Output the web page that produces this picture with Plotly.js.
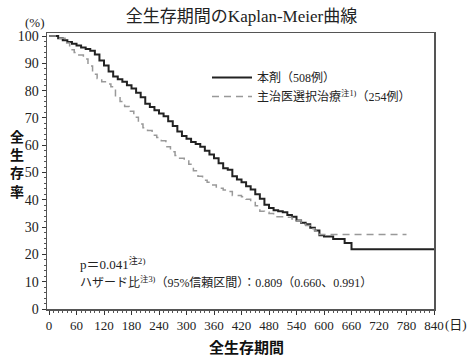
<!DOCTYPE html>
<html><head><meta charset="utf-8">
<script src="https://cdn.plot.ly/plotly-3.0.1.min.js"></script>
<style>html,body{margin:0;padding:0;background:#fff}#chart{width:469px;height:356px}</style>
</head><body><div id="chart"></div>
<script>
// Kaplan-Meier: 本剤 (508例)
const drugDays = [0,10,20,30,40,50,60,70,80,90,100,110,120,130,140,150,160,170,180,190,200,210,220,230,240,250,260,270,280,290,300,310,320,330,340,350,360,370,380,390,400,410,420,430,440,450,460,470,480,490,500,510,520,530,540,550,560,570,580,590,600,610,620,630,640,645,660,840];
const drugSurv = [100,100,99.2,98.4,97.8,97.2,96.5,95.8,95.2,94.6,93.2,91.0,89.2,87.0,85.2,84.2,83.2,82.0,80.8,79.2,77.6,75.2,74.0,72.8,71.6,70.6,68.8,67.0,65.0,63.4,62.4,61.2,60.4,59.4,58.0,56.6,55.2,53.4,51.6,51.0,48.6,47.4,46.4,45.0,43.8,42.0,40.4,38.2,37.0,36.2,35.8,35.4,34.4,33.8,32.4,31.6,31.0,29.8,28.8,27.0,26.6,26.6,25.6,25.6,25.6,24.2,21.9,21.9];
// Kaplan-Meier: 主治医選択治療 (254例)
const tpcDays = [0,20,35,45,55,65,75,85,95,105,115,125,135,145,155,165,175,185,195,205,215,225,235,245,255,265,275,285,295,305,315,325,335,345,355,365,380,390,400,420,430,440,450,460,470,480,490,520,530,540,550,560,570,580,590,780];
const tpcSurv = [100,99.2,97.4,95.0,94.0,93.0,91.6,89.0,86.0,84.4,83.2,82.4,81.4,77.8,76.0,74.2,72.4,70.2,67.8,66.4,65.4,63.6,62.8,61.6,59.4,57.6,56.2,55.2,54.6,53.0,50.6,48.6,47.2,46.4,45.4,44.2,43.6,43.0,41.6,41.1,40.2,39.3,37.8,35.8,35.4,35.0,33.8,33.6,33.0,32.4,31.4,30.6,29.4,28.6,27.3,27.3];
const seriesNames = ['本剤（508例）', '主治医選択治療<sup>注1)</sup>（254例）'];
const xTicks = [0,60,120,180,240,300,360,420,480,540,600,660,720,780,840];
const yTicks = [0,10,20,30,40,50,60,70,80,90,100];

const serif = '"Liberation Serif", "Noto Sans CJK JP", serif';
const L = 47, R = 434, T = 33, B = 309;
const px = x => (x - L) / (R - L);
const py = y => (B - y) / (B - T);

const traces = [
  {x: drugDays, y: drugSurv, name: seriesNames[0], mode: 'lines', line: {shape: 'hv', color: '#222', width: 2}},
  {x: tpcDays, y: tpcSurv, name: seriesNames[1], mode: 'lines', line: {shape: 'hv', color: '#999', width: 1.5, dash: '7px,5px'}}
];
const layout = {
  width: 469, height: 356,
  margin: {l: L, r: 469 - R, t: T, b: 356 - B},
  paper_bgcolor: '#fff', plot_bgcolor: '#fff',
  font: {family: serif, size: 13, color: '#222'},
  title: {text: '全生存期間のKaplan-Meier曲線', x: 0.515, xanchor: 'center', y: 0.955, yanchor: 'middle', font: {family: serif, size: 17, color: '#222'}},
  showlegend: true,
  legend: {x: px(207), y: py(63), xanchor: 'left', yanchor: 'top', bgcolor: 'rgba(0,0,0,0)', font: {family: serif, size: 12, color: '#222'}, tracegroupgap: 0, itemwidth: 40},
  xaxis: {range: [-4.4, 840], tickvals: xTicks, ticktext: xTicks.map(String), ticks: 'outside', ticklen: 4, tickcolor: '#333', showgrid: false, zeroline: false, showline: true, linecolor: '#555', linewidth: 1.5, mirror: true, tickfont: {family: serif, size: 13, color: '#222'},
    minor: {dtick: 10, tick0: 0, ticks: 'outside', ticklen: 2, tickcolor: '#555', showgrid: false}},
  yaxis: {range: [0, 101.1], tickvals: yTicks, ticktext: yTicks.map(String), ticks: 'outside', ticklen: 4, tickcolor: '#333', showgrid: false, zeroline: false, showline: true, linecolor: '#555', linewidth: 1.5, mirror: true, tickfont: {family: serif, size: 14, color: '#222'},
    minor: {dtick: 2, tick0: 0, ticks: 'outside', ticklen: 2, tickcolor: '#555', showgrid: false}},
  annotations: [
    {xref: 'paper', yref: 'paper', x: px(35), y: py(22), text: '(%)', showarrow: false, xanchor: 'center', yanchor: 'middle', font: {family: serif, size: 13}},
    {xref: 'paper', yref: 'paper', x: px(17), y: py(163), text: '<b>全<br>生<br>存<br>率</b>', showarrow: false, xanchor: 'center', yanchor: 'middle', font: {family: '"Noto Sans CJK JP"', size: 14, color: '#111'}},
    {xref: 'paper', yref: 'paper', x: px(246), y: py(346), text: '<b>全生存期間</b>', showarrow: false, xanchor: 'center', yanchor: 'middle', font: {family: '"Noto Sans CJK JP"', size: 15, color: '#111'}},
    {xref: 'paper', yref: 'paper', x: px(443), y: py(324), text: '(日)', showarrow: false, xanchor: 'left', yanchor: 'middle', font: {family: serif, size: 13}},
    {xref: 'paper', yref: 'paper', x: px(78), y: py(263), text: 'p＝0.041<sup>注2)</sup>', showarrow: false, xanchor: 'left', yanchor: 'middle', font: {family: serif, size: 13}},
    {xref: 'paper', yref: 'paper', x: px(78), y: py(282), text: 'ハザード比<sup>注3)</sup>（95%信頼区間）：0.809（0.660、0.991）', showarrow: false, xanchor: 'left', yanchor: 'middle', font: {family: serif, size: 12}}
  ]
};
Plotly.newPlot('chart', traces, layout, {staticPlot: true, displayModeBar: false});
</script></body></html>
